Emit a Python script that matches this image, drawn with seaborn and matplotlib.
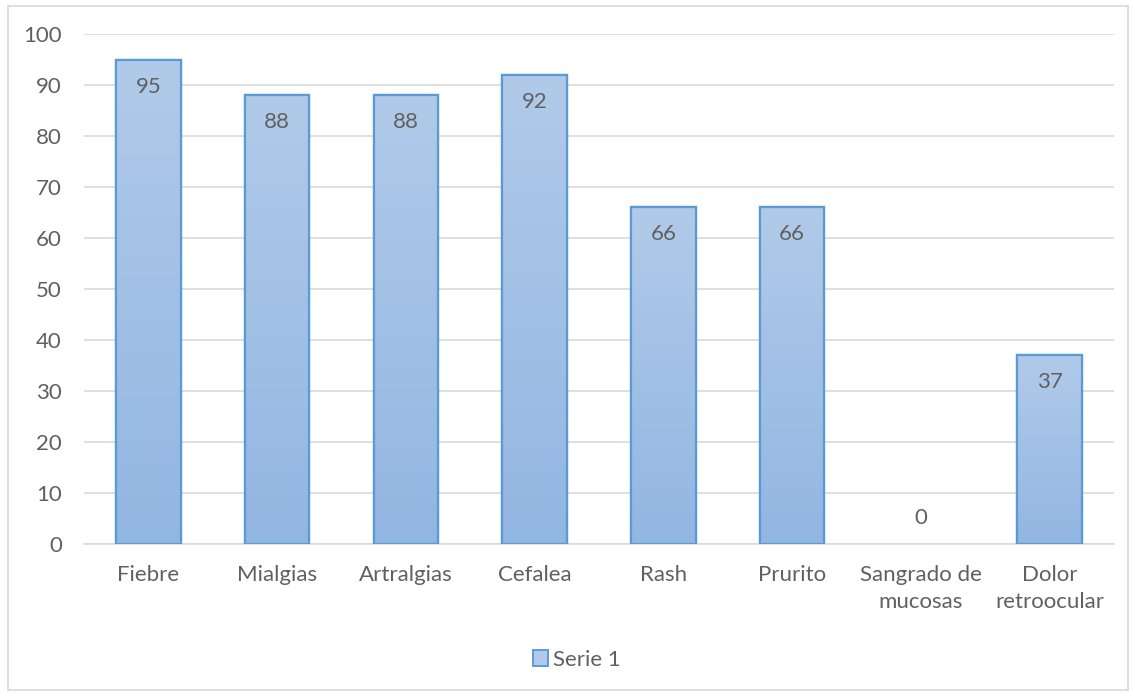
import numpy as np
import pandas as pd
import matplotlib
matplotlib.use("Agg")
import matplotlib.pyplot as plt
from matplotlib.patches import Rectangle, Patch
from matplotlib.colors import LinearSegmentedColormap
import seaborn as sns

categories = ["Fiebre", "Mialgias", "Artralgias", "Cefalea", "Rash", "Prurito",
              "Sangrado de\nmucosas", "Dolor\nretroocular"]
values = [95, 88, 88, 92, 66, 66, 0, 37]
series_name = "Serie 1"
y_ticks = [0, 10, 20, 30, 40, 50, 60, 70, 80, 90, 100]

sns.set_theme(style="white")
plt.rcParams["font.family"] = ["Lato", "DejaVu Sans"]

text_color = "#606060"
edge_color = "#5b9bd5"
top_color = "#b1cae9"
bottom_color = "#92b6e2"
fs = 16

df = pd.DataFrame({"cat": categories, "val": values})

fig = plt.figure(figsize=(11.35, 6.96), dpi=100)
ax = fig.add_axes([0.074, 0.2184, 0.9075, 0.7327])

sns.barplot(data=df, x="cat", y="val", ax=ax, width=0.5,
            color=top_color, edgecolor=edge_color, linewidth=1.6, zorder=3)

# vertical gradient inside each bar
cmap = LinearSegmentedColormap.from_list("grad", [bottom_color, top_color])
grad = np.linspace(0, 1, 256).reshape(-1, 1)
for p in ax.patches:
    x0, y0 = p.get_x(), p.get_y()
    w, h = p.get_width(), p.get_height()
    if h <= 0:
        p.set_visible(False)
        continue
    im = ax.imshow(grad, cmap=cmap, origin="lower", aspect="auto",
                   extent=[x0, x0 + w, y0, y0 + h], zorder=3.5)
    im.set_clip_path(p)
    ax.add_patch(Rectangle((x0, y0), w, h, fill=False, edgecolor=edge_color,
                           linewidth=1.6, zorder=4))

for i, v in enumerate(values):
    ypos = v - 5.3 if v > 10 else v + 5
    ax.text(i, ypos, str(v), ha="center", va="center", fontsize=fs,
            color=text_color, zorder=5)

ax.set_xlim(-0.5, len(categories) - 0.5)
ax.set_ylim(0, 100)
ax.set_yticks(y_ticks)
ax.yaxis.grid(True, color="#d9d9d9", linewidth=1.2, zorder=0)
ax.set_axisbelow(True)
for s in ["top", "right", "left"]:
    ax.spines[s].set_visible(False)
ax.spines["bottom"].set_color("#d9d9d9")
ax.spines["bottom"].set_linewidth(1.2)
ax.set_xlabel("")
ax.set_ylabel("")
ax.tick_params(axis="both", length=0, labelsize=fs, colors=text_color)
ax.tick_params(axis="x", pad=15)
ax.tick_params(axis="y", pad=16)
for t in ax.get_xticklabels():
    t.set_linespacing(1.45)

handle = Patch(facecolor=top_color, edgecolor=edge_color, linewidth=1.4)
fig.legend([handle], [series_name], loc="center", bbox_to_anchor=(0.508, 0.052),
           frameon=False, fontsize=fs, labelcolor=text_color,
           handlelength=0.7, handleheight=0.7, handletextpad=0.2)

# chart-area border
fig.patches.append(Rectangle((8 / 1135, 6 / 696), 1120 / 1135, 684 / 696,
                             transform=fig.transFigure, fill=False,
                             edgecolor="#d9d9d9", linewidth=1.2))

fig.savefig("out.png", dpi=100, facecolor="white")
